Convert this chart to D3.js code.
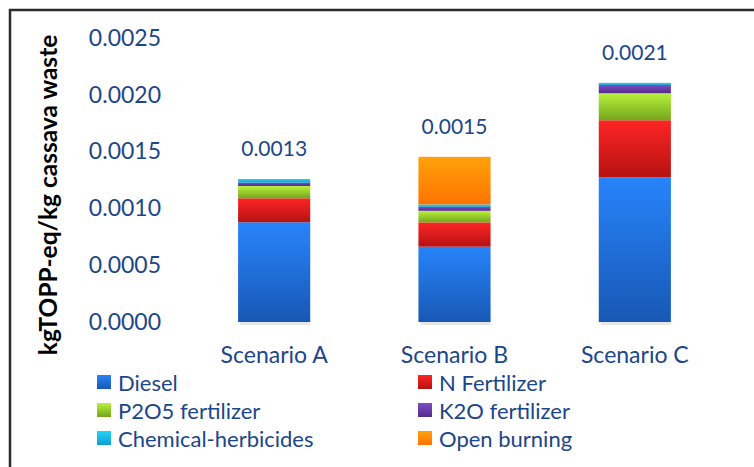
<!DOCTYPE html>
<html>
<head>
<meta charset="utf-8">
<script src="https://cdn.jsdelivr.net/npm/d3@7"></script>
<style>
  html, body { margin: 0; padding: 0; background: #fff; }
  svg { display: block; }
  text { font-family: Lato, "Open Sans", sans-serif; }
</style>
</head>
<body>
<svg id="chart" width="754" height="467"></svg>
<script>
const scenarios = ["Scenario A", "Scenario B", "Scenario C"];
const sources = ["Diesel", "N Fertilizer", "P2O5 fertilizer", "K2O fertilizer", "Chemical-herbicides", "Open burning"];
const diesel      = [0.000878, 0.000663, 0.001274];
const nFertilizer = [0.000211, 0.000214, 0.000502];
const p2o5        = [0.000108, 0.000102, 0.000238];
const k2o         = [0.000030, 0.000035, 0.000073];
const herbicides  = [0.000032, 0.000021, 0.000018];
const openBurning = [0.000000, 0.000419, 0.000000];
const totalLabels = ["0.0013", "0.0015", "0.0021"];
const yTicks = [0, 0.0005, 0.001, 0.0015, 0.002, 0.0025];

const seriesValues = [diesel, nFertilizer, p2o5, k2o, herbicides, openBurning];
// light (top) and dark (bottom) stop for each segment's fill
const palette = [
  ["#2784fb", "#1858b4"],
  ["#ff2424", "#b51212"],
  ["#b8f23a", "#74a51d"],
  ["#7a4ec4", "#55298c"],
  ["#22d2fa", "#0f9fcf"],
  ["#ffa10a", "#ff7400"]
];

const rows = scenarios.map((s, i) => {
  const r = { scenario: s };
  sources.forEach((k, j) => r[k] = seriesValues[j][i]);
  return r;
});
const stacked = d3.stack().keys(sources)(rows);

const svg = d3.select("#chart");
const defs = svg.append("defs");
palette.forEach((c, i) => {
  const g = defs.append("linearGradient").attr("id", "grad" + i)
    .attr("x1", 0).attr("y1", 0).attr("x2", 0).attr("y2", 1);
  g.append("stop").attr("offset", "0%").attr("stop-color", c[0]);
  g.append("stop").attr("offset", "100%").attr("stop-color", c[1]);
});

// outer frame: top and left edges
svg.append("line").attr("x1", 9).attr("x2", 754).attr("y1", 10).attr("y2", 10)
  .attr("stroke", "#2b2b2b").attr("stroke-width", 2.5);
svg.append("line").attr("x1", 10).attr("x2", 10).attr("y1", 9).attr("y2", 467)
  .attr("stroke", "#2b2b2b").attr("stroke-width", 2.5);

const x = d3.scaleBand().domain(scenarios).range([184, 725]).paddingInner(0.6).paddingOuter(0.3);
const y = d3.scaleLinear().domain([0, 0.0025]).range([322, 38]);

const axisColor = "#1c468a";

const yAxis = d3.axisLeft(y).tickValues(yTicks).tickFormat(d3.format(".4f")).tickSize(0).tickPadding(0);
const yg = svg.append("g").attr("transform", "translate(161,0)").call(yAxis);
yg.select(".domain").remove();
yg.selectAll("text").attr("fill", axisColor).style("font-size", "23px")
  .style("font-family", "Lato, 'Open Sans', sans-serif");

// soft shadow under the bars
svg.append("g").selectAll("rect").data(scenarios).join("rect")
  .attr("x", d => x(d) + 2).attr("width", x.bandwidth() - 2)
  .attr("y", y(0)).attr("height", 3)
  .attr("fill", "#e6e6e6");

const layers = svg.append("g").selectAll("g").data(stacked).join("g")
  .attr("fill", (d, i) => `url(#grad${i})`);
layers.selectAll("rect").data(d => d.map(v => ({ v, scen: v.data.scenario }))).join("rect")
  .attr("x", d => x(d.scen))
  .attr("width", x.bandwidth())
  .attr("y", d => y(d.v[1]))
  .attr("height", d => Math.max(0, y(d.v[0]) - y(d.v[1])));

const xAxis = d3.axisBottom(x).tickSize(0).tickPadding(0);
const xg = svg.append("g").attr("transform", `translate(0,${y(0) + 25})`).call(xAxis);
xg.select(".domain").remove();
xg.selectAll("text").attr("fill", axisColor).style("font-size", "23px")
  .style("font-family", "Lato, 'Open Sans', sans-serif");

// total labels above each bar
svg.append("g").selectAll("text").data(scenarios).join("text")
  .attr("x", d => x(d) + x.bandwidth() / 2)
  .attr("y", (d, i) => y(d3.sum(seriesValues, s => s[i])) - 23)
  .attr("text-anchor", "middle")
  .attr("fill", axisColor)
  .style("font-size", "21px")
  .text((d, i) => totalLabels[i]);

// y axis title
svg.append("text")
  .attr("transform", "translate(47,195) rotate(-90)")
  .attr("text-anchor", "middle")
  .attr("dominant-baseline", "central")
  .attr("fill", "#000")
  .style("font-size", "24.5px")
  .style("font-weight", "bold")
  .text("kgTOPP-eq/kg cassava waste");

// legend in two columns
const legend = svg.append("g").selectAll("g").data(sources).join("g")
  .attr("transform", (d, i) => `translate(${i % 2 === 0 ? 97 : 418},${375 + Math.floor(i / 2) * 28})`);
legend.append("rect").attr("width", 14).attr("height", 14)
  .attr("fill", (d, i) => `url(#grad${i})`);
legend.append("text").attr("x", 21).attr("y", 7)
  .attr("dominant-baseline", "central")
  .attr("fill", axisColor)
  .style("font-size", "22px")
  .text(d => d);
</script>
</body>
</html>
